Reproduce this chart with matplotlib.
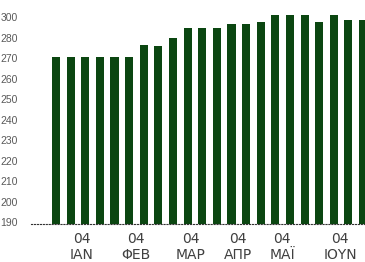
import numpy as np
import matplotlib

matplotlib.use("Agg")
import matplotlib.pyplot as plt
from matplotlib.transforms import ScaledTranslation

# weekly values
values = [
    271.6, 271.6, 271.6, 271.6, 271.6, 271.6,
    277.3, 276.8, 280.7,
    285.6, 285.6, 285.6,
    287.6, 287.6, 288.5,
    292.0, 292.0, 292.0, 288.5, 292.0, 289.5, 289.5,
]
month_labels = ["04\nΙΑΝ", "04\nΦΕΒ", "04\nΜΑΡ", "04\nΑΠΡ", "04\nΜΑΪ", "04\nΙΟΥΝ"]
month_ticks = [1.78, 5.47, 9.23, 12.45, 15.46, 19.43]
y_ticks = [190, 200, 210, 220, 230, 240, 250, 260, 270, 280, 290]
y_tick_labels = ["190", "200", "210", "220", "230", "240", "250", "260", "270", "280", "300"]

bar_color = "#0b4611"

fig = plt.figure(figsize=(3.65, 2.62), dpi=100)
ax = fig.add_axes([31 / 365, 1 - 224 / 262, 1 - 31 / 365, 224 / 262])

x = np.arange(len(values))
ax.bar(x, np.array(values) - 190, bottom=190, width=0.55, color=bar_color)

ax.set_xlim(-1.71, 21.13)
ax.set_ylim(190, 299.3)

ax.set_yticks(y_ticks)
ax.set_yticklabels(y_tick_labels, fontsize=7.5, color="#595959",
                   family=["Liberation Sans", "DejaVu Sans"])
ax.tick_params(axis="y", left=False, pad=6)
# labels sit a little above their gridline in the original
shift = ScaledTranslation(0, 2 / 100, fig.dpi_scale_trans)
for lbl in ax.get_yticklabels():
    lbl.set_transform(lbl.get_transform() + shift)

ax.set_xticks(month_ticks)
ax.set_xticklabels(month_labels, fontsize=10, color="#404040", linespacing=1.2)
ax.tick_params(axis="x", bottom=False, pad=2)

for side in ["top", "right", "left"]:
    ax.spines[side].set_visible(False)
ax.spines["bottom"].set_linestyle(":")
ax.spines["bottom"].set_linewidth(0.8)
ax.spines["bottom"].set_color("#333333")

fig.savefig("out.png", dpi=100, facecolor="white")
